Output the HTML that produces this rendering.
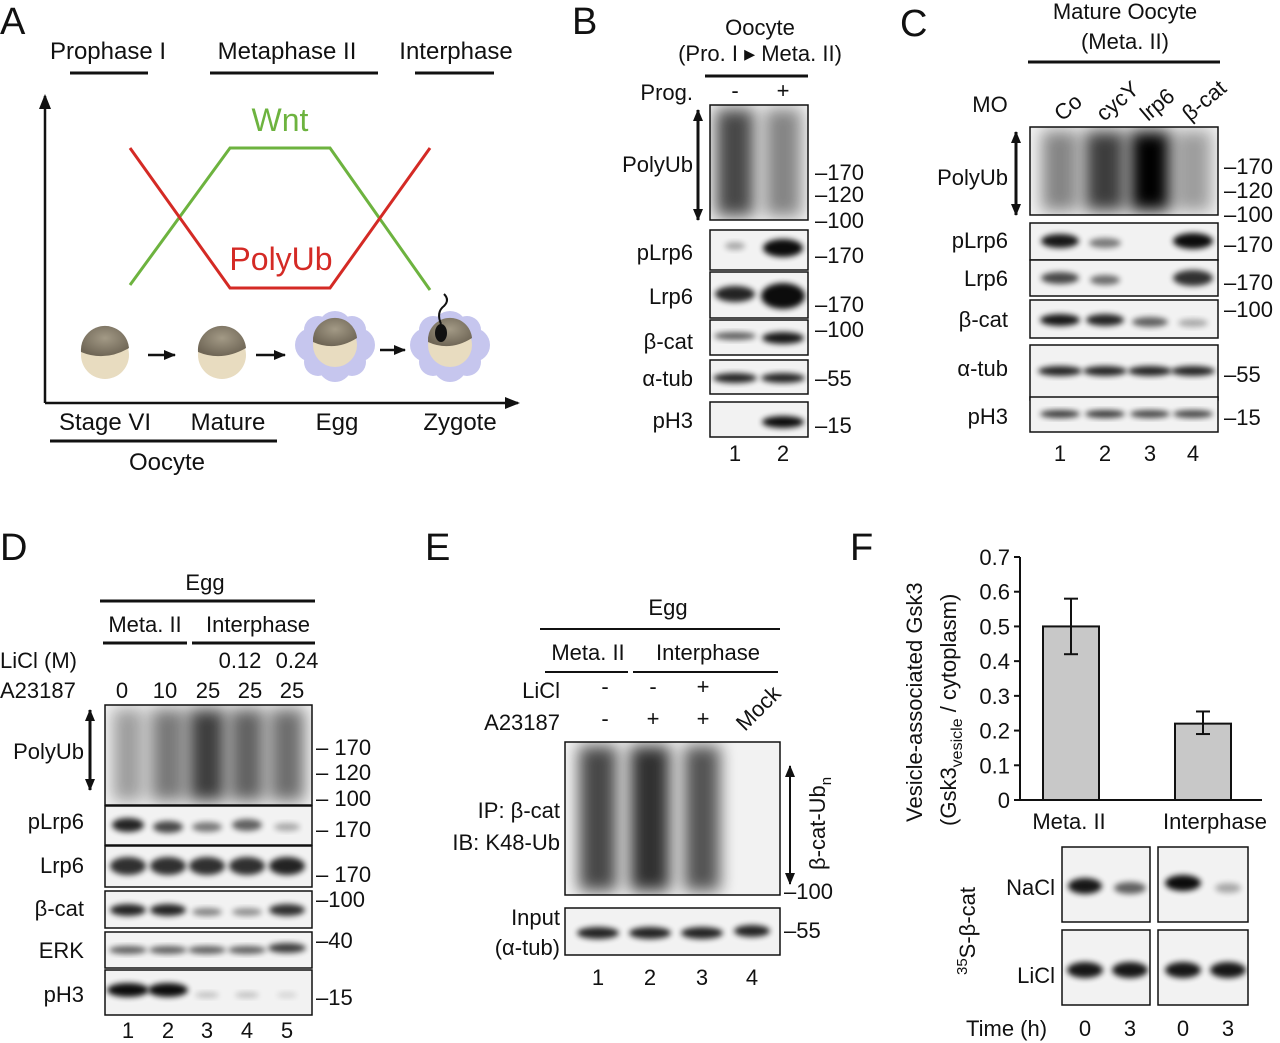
<!DOCTYPE html>
<html><head><meta charset="utf-8">
<style>
html,body{margin:0;padding:0;background:#fff}
svg{display:block;font-family:"Liberation Sans",Arial,sans-serif}
text{fill:#111}
</style></head>
<body>
<svg id="fig" width="1280" height="1043" viewBox="0 0 1280 1043">
<defs>
<filter id="b1" x="-50%" y="-50%" width="200%" height="200%"><feGaussianBlur stdDeviation="3"/></filter>
<filter id="b2" x="-50%" y="-50%" width="200%" height="200%"><feGaussianBlur stdDeviation="8"/></filter>
<radialGradient id="egg" cx="0.5" cy="0.4" r="0.6"><stop offset="0" stop-color="#a39a86"/><stop offset="1" stop-color="#6f6656"/></radialGradient>
<marker id="ah" markerUnits="userSpaceOnUse" markerWidth="16" markerHeight="16" refX="13" refY="8" orient="auto-start-reverse"><path d="M0,2 L15,8 L0,14 z" fill="#111"/></marker>
<marker id="as" markerUnits="userSpaceOnUse" markerWidth="14" markerHeight="14" refX="11" refY="7" orient="auto-start-reverse"><path d="M0,2 L12,7 L0,12 z" fill="#111"/></marker>
</defs>

<!-- Panel A -->
<g>
<text x="0" y="34" font-size="38">A</text>
<g font-size="24" text-anchor="middle">
<text x="108" y="59">Prophase I</text>
<text x="287" y="59">Metaphase II</text>
<text x="456" y="59">Interphase</text>
</g>
<g stroke="#111" stroke-width="3">
<line x1="70" y1="73" x2="148" y2="73"/><line x1="210" y1="73" x2="378" y2="73"/><line x1="415" y1="73" x2="494" y2="73"/>
</g>
<line x1="45" y1="403" x2="45" y2="96" stroke="#111" stroke-width="2.5" marker-end="url(#ah)"/>
<line x1="45" y1="403" x2="518" y2="403" stroke="#111" stroke-width="2.5" marker-end="url(#ah)"/>
<polyline points="130,285 230,148 330,148 430,290" fill="none" stroke="#6db33f" stroke-width="3"/>
<polyline points="130,148 230,288 330,288 430,148" fill="none" stroke="#d42a25" stroke-width="3"/>
<text x="280" y="131" font-size="32" text-anchor="middle" style="fill:#6db33f">Wnt</text>
<text x="281" y="270" font-size="32" text-anchor="middle" style="fill:#d42a25">PolyUb</text>
<g>
<g fill="#c6c6ee"><circle cx="335" cy="328" r="17"/><circle cx="358" cy="345" r="17"/><circle cx="335" cy="365" r="17"/><circle cx="312" cy="345" r="17"/><circle cx="352" cy="330" r="14"/><circle cx="318" cy="330" r="14"/><circle cx="352" cy="362" r="14"/><circle cx="318" cy="362" r="14"/>
<circle cx="450" cy="328" r="17"/><circle cx="473" cy="345" r="17"/><circle cx="450" cy="365" r="17"/><circle cx="427" cy="345" r="17"/><circle cx="467" cy="330" r="14"/><circle cx="433" cy="330" r="14"/><circle cx="467" cy="362" r="14"/><circle cx="433" cy="362" r="14"/></g>
<g><circle cx="105" cy="355" r="24" fill="#e8dcc0"/><path d="M81,352 A24,24 0 0 1 129,348 Q105,362 81,352z" fill="url(#egg)"/>
<circle cx="222" cy="355" r="24" fill="#e8dcc0"/><path d="M198,352 A24,24 0 0 1 246,348 Q222,362 198,352z" fill="url(#egg)"/>
<circle cx="335" cy="345" r="22" fill="#e8dcc0"/><path d="M313,342 A22,22 0 0 1 357,338 Q335,352 313,342z" fill="url(#egg)"/>
<circle cx="450" cy="345" r="22" fill="#e8dcc0"/><path d="M428,342 A22,22 0 0 1 472,338 Q450,352 428,342z" fill="url(#egg)"/>
<ellipse cx="441" cy="333" rx="6" ry="9" fill="#111"/><path d="M441,324 Q436,312 444,306 Q450,300 444,294" stroke="#111" stroke-width="2" fill="none"/></g>
<g stroke="#111" stroke-width="2.5"><line x1="148" y1="355" x2="175" y2="355" marker-end="url(#as)"/><line x1="256" y1="355" x2="285" y2="355" marker-end="url(#as)"/><line x1="380" y1="350" x2="405" y2="350" marker-end="url(#as)"/></g>
</g>
<g font-size="24" text-anchor="middle">
<text x="105" y="430">Stage VI</text>
<text x="228" y="430">Mature</text>
<text x="337" y="430">Egg</text>
<text x="460" y="430">Zygote</text>
<text x="167" y="470">Oocyte</text>
</g>
<line x1="50" y1="441" x2="277" y2="441" stroke="#111" stroke-width="3"/>
</g>

<!-- Panel B -->
<g font-size="22">
<text x="572" y="34" font-size="38">B</text>
<text x="760" y="35" text-anchor="middle">Oocyte</text>
<text x="760" y="61" text-anchor="middle">(Pro. I ▸ Meta. II)</text>
<line x1="705" y1="76" x2="808" y2="76" stroke="#111" stroke-width="3"/>
<text x="693" y="100" text-anchor="end">Prog.</text>
<text x="735" y="98" text-anchor="middle">-</text><text x="783" y="98" text-anchor="middle">+</text>
<g id="blotsB"></g>
<g text-anchor="end">
<text x="693" y="172">PolyUb</text><text x="693" y="260">pLrp6</text><text x="693" y="304">Lrp6</text>
<text x="693" y="349">β-cat</text><text x="693" y="386">α-tub</text><text x="693" y="428">pH3</text></g>
<line x1="698" y1="110" x2="698" y2="220" stroke="#111" stroke-width="3" marker-start="url(#as)" marker-end="url(#as)"/>
<g font-size="22"><text x="815" y="180">–170</text><text x="815" y="202">–120</text><text x="815" y="228">–100</text>
<text x="815" y="263">–170</text><text x="815" y="312">–170</text><text x="815" y="337">–100</text><text x="815" y="386">–55</text><text x="815" y="433">–15</text></g>
<text x="735" y="461" text-anchor="middle">1</text><text x="783" y="461" text-anchor="middle">2</text>
</g>

<!-- Panel C -->
<g font-size="22">
<text x="900" y="36" font-size="38">C</text>
<text x="1125" y="19" text-anchor="middle">Mature Oocyte</text>
<text x="1125" y="49" text-anchor="middle">(Meta. II)</text>
<line x1="1028" y1="62" x2="1220" y2="62" stroke="#111" stroke-width="3"/>
<text x="990" y="112" text-anchor="middle">MO</text>
<text transform="translate(1062,122) rotate(-40)">Co</text>
<text transform="translate(1104,122) rotate(-40)">cycY</text>
<text transform="translate(1148,122) rotate(-40)">lrp6</text>
<text transform="translate(1190,122) rotate(-40)">β-cat</text>
<g id="blotsC"></g>
<g text-anchor="end"><text x="1008" y="185">PolyUb</text><text x="1008" y="248">pLrp6</text><text x="1008" y="286">Lrp6</text>
<text x="1008" y="327">β-cat</text><text x="1008" y="376">α-tub</text><text x="1008" y="424">pH3</text></g>
<line x1="1016" y1="132" x2="1016" y2="215" stroke="#111" stroke-width="3" marker-start="url(#as)" marker-end="url(#as)"/>
<g><text x="1224" y="174">–170</text><text x="1224" y="198">–120</text><text x="1224" y="222">–100</text>
<text x="1224" y="252">–170</text><text x="1224" y="290">–170</text><text x="1224" y="317">–100</text><text x="1224" y="382">–55</text><text x="1224" y="425">–15</text></g>
<g text-anchor="middle"><text x="1060" y="461">1</text><text x="1105" y="461">2</text><text x="1150" y="461">3</text><text x="1193" y="461">4</text></g>
</g>

<!-- Panel D -->
<g font-size="22">
<text x="0" y="560" font-size="38">D</text>
<text x="205" y="590" text-anchor="middle">Egg</text>
<line x1="100" y1="601" x2="315" y2="601" stroke="#111" stroke-width="3"/>
<text x="145" y="632" text-anchor="middle">Meta. II</text><text x="258" y="632" text-anchor="middle">Interphase</text>
<line x1="103" y1="643" x2="187" y2="643" stroke="#111" stroke-width="3"/><line x1="192" y1="643" x2="315" y2="643" stroke="#111" stroke-width="3"/>
<text x="0" y="668">LiCl (M)</text><text x="240" y="668" text-anchor="middle">0.12</text><text x="297" y="668" text-anchor="middle">0.24</text>
<text x="0" y="698">A23187</text>
<g text-anchor="middle"><text x="122" y="698">0</text><text x="165" y="698">10</text><text x="208" y="698">25</text><text x="250" y="698">25</text><text x="292" y="698">25</text></g>
<g id="blotsD"></g>
<g text-anchor="end"><text x="84" y="759">PolyUb</text><text x="84" y="829">pLrp6</text><text x="84" y="873">Lrp6</text>
<text x="84" y="916">β-cat</text><text x="84" y="958">ERK</text><text x="84" y="1002">pH3</text></g>
<line x1="90" y1="710" x2="90" y2="790" stroke="#111" stroke-width="3" marker-start="url(#as)" marker-end="url(#as)"/>
<g><text x="316" y="755">– 170</text><text x="316" y="780">– 120</text><text x="316" y="806">– 100</text>
<text x="316" y="837">– 170</text><text x="316" y="882">– 170</text><text x="316" y="907">–100</text><text x="316" y="948">–40</text><text x="316" y="1005">–15</text></g>
<g text-anchor="middle"><text x="128" y="1038">1</text><text x="168" y="1038">2</text><text x="207" y="1038">3</text><text x="247" y="1038">4</text><text x="287" y="1038">5</text></g>
</g>

<!-- Panel E -->
<g font-size="22">
<text x="425" y="560" font-size="38">E</text>
<text x="668" y="615" text-anchor="middle">Egg</text>
<line x1="540" y1="629" x2="780" y2="629" stroke="#111" stroke-width="2"/>
<text x="588" y="660" text-anchor="middle">Meta. II</text><text x="708" y="660" text-anchor="middle">Interphase</text>
<line x1="545" y1="672" x2="628" y2="672" stroke="#111" stroke-width="2"/><line x1="633" y1="672" x2="778" y2="672" stroke="#111" stroke-width="2"/>
<text x="560" y="698" text-anchor="end">LiCl</text><text x="560" y="730" text-anchor="end">A23187</text>
<g text-anchor="middle"><text x="605" y="694">-</text><text x="653" y="694">-</text><text x="703" y="694">+</text>
<text x="605" y="726">-</text><text x="653" y="726">+</text><text x="703" y="726">+</text></g>
<text transform="translate(745,732) rotate(-45)">Mock</text>
<g id="blotsE"></g>
<g text-anchor="end"><text x="560" y="818">IP: β-cat</text><text x="560" y="850">IB: K48-Ub</text><text x="560" y="925">Input</text><text x="560" y="955">(α-tub)</text></g>
<line x1="790" y1="884" x2="790" y2="766" stroke="#111" stroke-width="2" marker-start="url(#as)" marker-end="url(#as)"/>
<text transform="translate(825,870) rotate(-90)">β-cat-Ub<tspan font-size="15" dy="6">n</tspan></text>
<text x="784" y="899">–100</text><text x="784" y="938">–55</text>
<g text-anchor="middle"><text x="598" y="985">1</text><text x="650" y="985">2</text><text x="702" y="985">3</text><text x="752" y="985">4</text></g>
</g>

<!-- Panel F -->
<g font-size="22">
<text x="850" y="560" font-size="38">F</text>
<g id="chartF"></g>
<text transform="translate(922,822) rotate(-90)">Vesicle-associated Gsk3</text>
<text transform="translate(956,826) rotate(-90)">(Gsk3<tspan font-size="16" dy="6">vesicle</tspan><tspan dy="-6"> / cytoplasm</tspan>)</text>
<g id="blotsF"></g>
<text transform="translate(975,975) rotate(-90)"><tspan font-size="15" dy="-8">35</tspan><tspan dy="8">S-β-cat</tspan></text>
<text x="1055" y="895" text-anchor="end">NaCl</text><text x="1055" y="983" text-anchor="end">LiCl</text>
<text x="966" y="1036">Time (h)</text>
<g text-anchor="middle"><text x="1085" y="1036">0</text><text x="1130" y="1036">3</text><text x="1183" y="1036">0</text><text x="1228" y="1036">3</text></g>
</g>
</svg>

<script>
// Panel F chart data
const categories = ["Meta. II", "Interphase"];
const values = [0.50, 0.22];
const errLow = [0.42, 0.19];
const errHigh = [0.58, 0.255];
const yTicks = [0, 0.1, 0.2, 0.3, 0.4, 0.5, 0.6, 0.7];

const NS = "http://www.w3.org/2000/svg";
function mk(parent, tag, attrs, txt){const e=document.createElementNS(NS,tag);for(const k in attrs)e.setAttribute(k,attrs[k]);if(txt!==undefined)e.textContent=txt;parent.appendChild(e);return e;}

const chart = document.getElementById('chartF');
const y0 = 800, yTop = 557, xAxis = 1020;
const yScale = v => y0 - v / 0.7 * (y0 - yTop);
const xCenter = i => 1071 + i * 132;
const ax = mk(chart,'line',{x1:xAxis,y1:yTop,x2:xAxis,y2:y0,stroke:'#111','stroke-width':2});


const xa = mk(chart,'line',{x1:xAxis,y1:y0,x2:1262,y2:y0,stroke:'#111','stroke-width':2});


yTicks.forEach(t=>{
  mk(chart,'line',{x1:xAxis-6,y1:yScale(t),x2:xAxis,y2:yScale(t),stroke:'#111','stroke-width':2});
  const lb = mk(chart,'text',{x:xAxis-10,y:yScale(t)+8,'text-anchor':'end','font-size':22},String(t));
  
  
});
categories.forEach((c,i)=>{
  const cx = xCenter(i);
  const r = mk(chart,'rect',{x:cx-28,y:yScale(values[i]),width:56,height:y0-yScale(values[i]),fill:'#c8c8c8',stroke:'#111','stroke-width':2});
  
  
  const g = mk(chart,'g',{stroke:'#111','stroke-width':2});
  
  
  mk(g,'line',{x1:cx,y1:yScale(errLow[i]),x2:cx,y2:yScale(errHigh[i])});
  mk(g,'line',{x1:cx-7,y1:yScale(errLow[i]),x2:cx+7,y2:yScale(errLow[i])});
  mk(g,'line',{x1:cx-7,y1:yScale(errHigh[i]),x2:cx+7,y2:yScale(errHigh[i])});
  const t = mk(chart,'text',{x:cx+(i?12:-2),y:829,'text-anchor':'middle','font-size':22},c);
  
  
});

// Blot drawing helper
let clipCount = 0;
function blot(gid, x, y, w, h, bands, smear){
  const g = document.getElementById(gid);
  const box = mk(g,'g',{});
  
  
  mk(box,'rect',{x:x,y:y,width:w,height:h,fill:'#f2f2f2',stroke:'#111','stroke-width':1.5});
  const clip = 'clip' + (clipCount++);
  const cp = mk(box,'clipPath',{id:clip}); mk(cp,'rect',{x:x,y:y,width:w,height:h});
  const inner = mk(box,'g',{'clip-path':'url(#'+clip+')'});
  bands.forEach(b=>{
    if(smear) mk(inner,'rect',{x:b[0]-b[2]/2,y:y+4,width:b[2],height:h-8,fill:'#000',opacity:b[3],filter:'url(#b2)'});
    else mk(inner,'ellipse',{cx:b[0],cy:b[1],rx:b[2]/2,ry:b[4]||6,fill:'#000',opacity:b[3],filter:'url(#b1)'});
  });
}
// B
blot('blotsB',710,105,98,115,[[735,0,38,0.7],[783,0,36,0.45]],true);
blot('blotsB',710,230,98,40,[[735,246,20,0.3,4],[783,248,40,0.95,9]]);
blot('blotsB',710,272,98,46,[[735,294,40,0.85,8],[783,296,44,0.95,13]]);
blot('blotsB',710,320,98,35,[[735,336,42,0.6,4],[783,338,42,0.9,6]]);
blot('blotsB',710,360,98,34,[[735,378,44,0.85,5],[783,378,44,0.85,5]]);
blot('blotsB',710,402,98,35,[[783,422,42,0.95,6]]);
// C
const lc=[1060,1105,1150,1193];
blot('blotsC',1030,127,188,88,[[lc[0],0,36,0.45],[lc[1],0,40,0.75],[lc[2],0,40,1],[lc[3],0,36,0.35]],true);
blot('blotsC',1030,223,188,37,[[lc[0],241,38,0.9,7],[lc[1],243,32,0.5,5],[lc[3],241,40,0.95,8]]);
blot('blotsC',1030,260,188,36,[[lc[0],278,38,0.7,6],[lc[1],280,30,0.55,5],[lc[3],278,40,0.8,8]]);
blot('blotsC',1030,300,188,38,[[lc[0],320,40,0.9,6],[lc[1],320,38,0.85,6],[lc[2],322,36,0.6,5],[lc[3],323,30,0.3,4]]);
blot('blotsC',1030,345,188,55,[[lc[0],371,44,0.85,5],[lc[1],371,44,0.85,5],[lc[2],371,44,0.85,5],[lc[3],371,44,0.85,5]]);
blot('blotsC',1030,397,188,35,[[lc[0],414,40,0.75,4],[lc[1],414,40,0.75,4],[lc[2],414,40,0.7,4],[lc[3],414,40,0.7,4]]);
// D
const ld=[128,168,207,247,287];
blot('blotsD',105,705,207,100,[[ld[0],0,30,0.35],[ld[1],0,34,0.5],[ld[2],0,36,0.75],[ld[3],0,34,0.6],[ld[4],0,34,0.55]],true);
blot('blotsD',105,806,207,39,[[ld[0],825,32,0.85,7],[ld[1],827,30,0.7,6],[ld[2],827,30,0.5,5],[ld[3],825,30,0.6,6],[ld[4],827,26,0.3,4]]);
blot('blotsD',105,846,207,41,[[ld[0],866,36,0.8,9],[ld[1],866,36,0.8,9],[ld[2],866,36,0.8,9],[ld[3],866,36,0.8,9],[ld[4],866,36,0.85,9]]);
blot('blotsD',105,891,207,37,[[ld[0],910,36,0.85,6],[ld[1],910,36,0.85,6],[ld[2],912,30,0.45,4],[ld[3],912,30,0.4,4],[ld[4],910,36,0.8,6]]);
blot('blotsD',105,932,207,36,[[ld[0],950,38,0.6,4],[ld[1],950,38,0.6,4],[ld[2],950,38,0.6,4],[ld[3],950,38,0.6,4],[ld[4],948,38,0.75,5]]);
blot('blotsD',105,970,207,45,[[ld[0],990,42,0.95,7],[ld[1],990,40,0.95,7],[ld[2],995,24,0.2,3],[ld[3],995,24,0.2,3],[ld[4],995,20,0.12,3]]);
// E
const le=[598,650,702,752];
blot('blotsE',565,742,215,153,[[le[0],0,38,0.7],[le[1],0,40,0.8],[le[2],0,36,0.65]],true);
blot('blotsE',565,908,215,47,[[le[0],933,42,0.85,6],[le[1],933,42,0.85,6],[le[2],933,42,0.85,6],[le[3],931,36,0.85,6]]);
// F
blot('blotsF',1062,847,88,75,[[1085,886,34,0.9,8],[1130,888,32,0.6,6]]);
blot('blotsF',1158,847,90,75,[[1183,883,36,0.95,8],[1228,888,26,0.3,5]]);
blot('blotsF',1062,930,88,75,[[1085,970,36,0.9,8],[1130,970,36,0.9,8]]);
blot('blotsF',1158,930,90,75,[[1183,970,36,0.9,8],[1228,970,36,0.9,8]]);
</script>
</body></html>
